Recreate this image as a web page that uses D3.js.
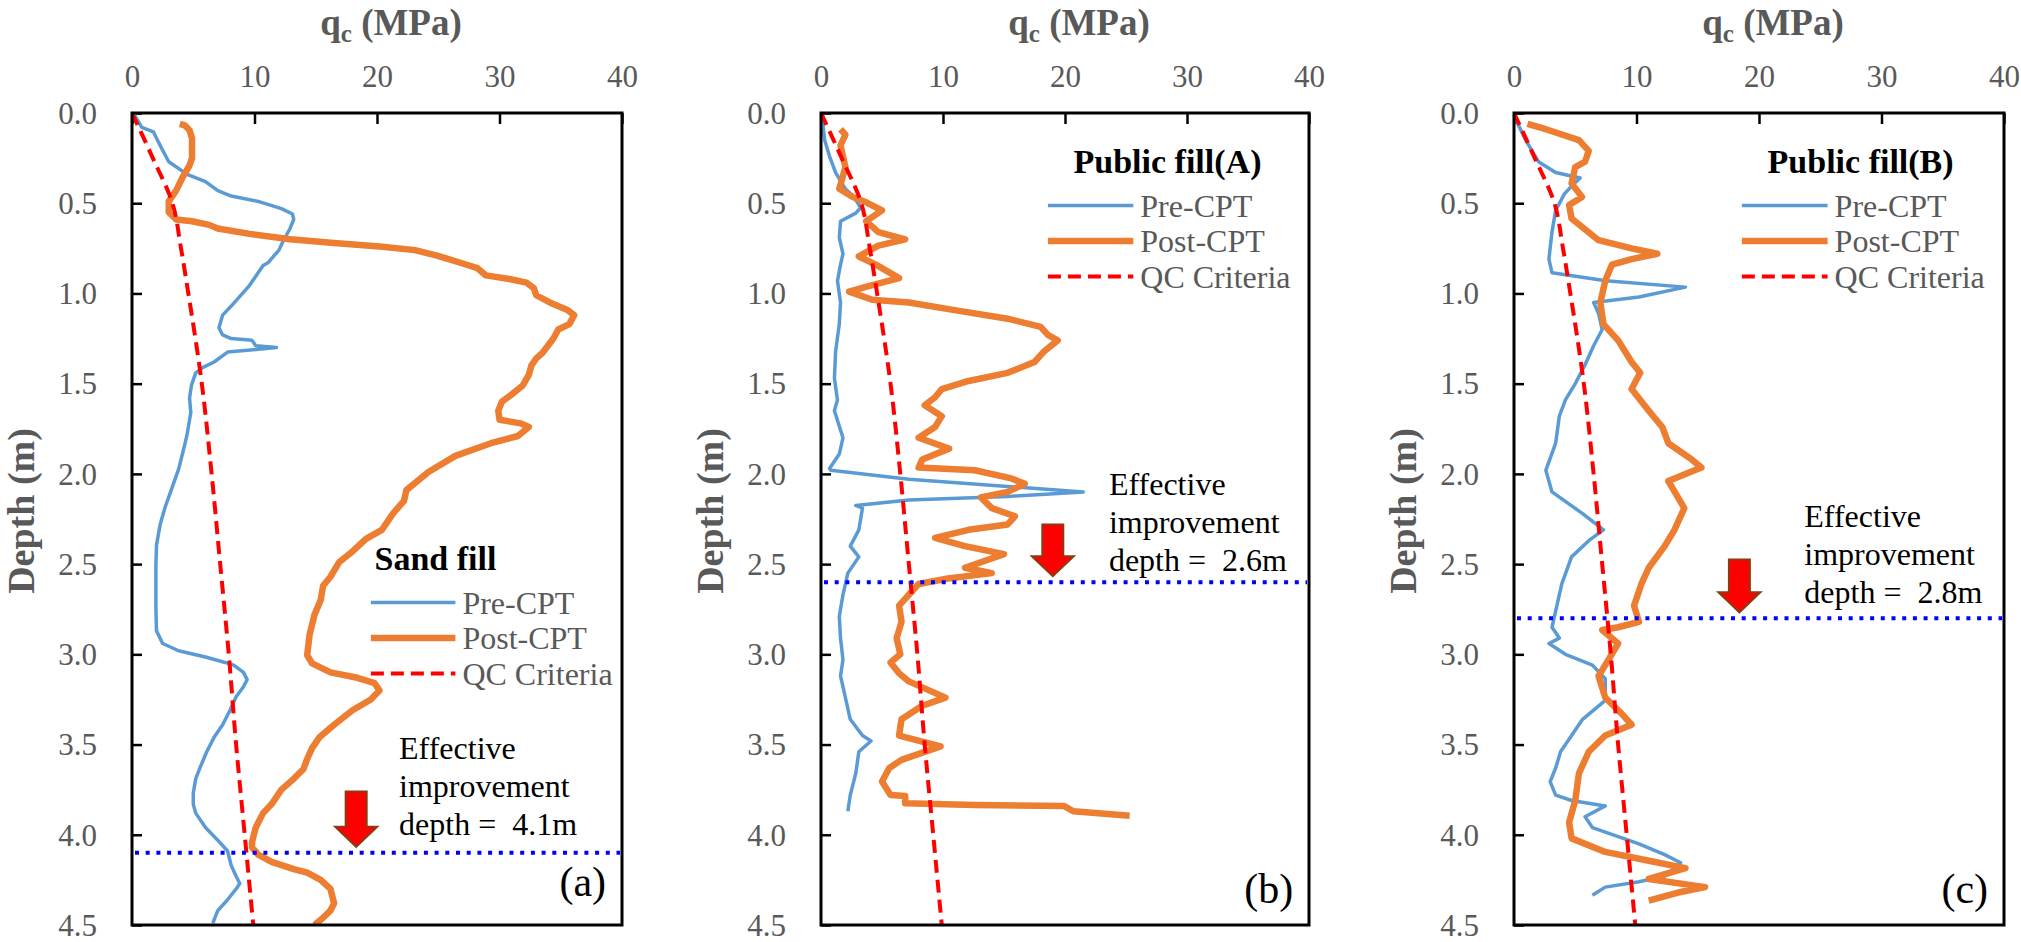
<!DOCTYPE html>
<html>
<head>
<meta charset="utf-8">
<script src="https://cdn.jsdelivr.net/npm/d3@7"></script>
<style>
body { margin: 0; background: #fff; }
svg { display: block; }
text { font-family: "Liberation Serif", "Times New Roman", serif; }
</style>
</head>
<body>
<svg id="chart" width="2021" height="942"></svg>
<script>
// x ticks (MPa) and depth ticks (m)
var qcTicks = [0, 10, 20, 30, 40]
var depthTicks = [0, 0.5, 1.0, 1.5, 2.0, 2.5, 3.0, 3.5, 4.0, 4.5]

// QC criteria, [depth m, qc MPa]
var qcCriteria = [[0, 0], [0.25, 1.7], [0.5, 3.3], [0.75, 4.0], [1, 4.6], [1.5, 5.7], [2, 6.5],
  [2.5, 7.2], [3, 7.9], [3.5, 8.5], [4, 9.2], [4.5, 9.9]]

// (a) sand fill
var preA = [[0, 0.1], [0.08, 0.8], [0.105, 1.75], [0.18, 2.3], [0.27, 3.0], [0.34, 4.5], [0.38, 6.0],
  [0.43, 7.0], [0.46, 8.1], [0.49, 10.3], [0.53, 12.2], [0.56, 13.1], [0.59, 13.2], [0.64, 12.9],
  [0.715, 12.3], [0.76, 12.0], [0.79, 11.6], [0.83, 11.1], [0.845, 10.7], [0.955, 9.6], [1.07, 8.1],
  [1.12, 7.4], [1.19, 7.1], [1.23, 7.4], [1.25, 8.1], [1.26, 9.8], [1.29, 10.1], [1.30, 11.8],
  [1.31, 10.3], [1.325, 7.8], [1.38, 6.7], [1.41, 5.8], [1.44, 5.2], [1.51, 4.85], [1.58, 4.7],
  [1.66, 4.8], [1.78, 4.5], [1.84, 4.3], [1.975, 3.8], [2.09, 3.2], [2.185, 2.7], [2.28, 2.3],
  [2.395, 2.0], [2.51, 1.95], [2.62, 1.95], [2.74, 1.95], [2.87, 2.0], [2.94, 2.5], [2.98, 3.8],
  [3.015, 6.0], [3.045, 7.6], [3.06, 8.3], [3.10, 9.1], [3.14, 9.4], [3.18, 9.1], [3.235, 8.5],
  [3.31, 8.0], [3.39, 7.4], [3.46, 6.7], [3.54, 6.1], [3.62, 5.6], [3.69, 5.2], [3.77, 5.0],
  [3.83, 5.0], [3.88, 5.2], [3.96, 6.0], [4.03, 7.0], [4.09, 7.8], [4.17, 8.1], [4.23, 8.5],
  [4.27, 8.8], [4.30, 8.5], [4.36, 7.8], [4.42, 7.0], [4.49, 6.6]]
var postA = [[0.06, 3.9], [0.068, 4.3], [0.096, 4.7], [0.14, 4.9], [0.25, 4.9], [0.29, 4.7], [0.36, 4.1],
  [0.43, 3.6], [0.49, 3.0], [0.55, 3.0], [0.59, 3.6], [0.60, 4.9], [0.62, 6.3], [0.64, 7.0], [0.67, 9.6],
  [0.70, 12.9], [0.72, 16.5], [0.74, 20.2], [0.76, 23.1], [0.79, 24.9], [0.83, 26.8], [0.86, 28.2],
  [0.90, 28.9], [0.92, 30.8], [0.94, 32.2], [0.97, 32.8], [1.01, 33.0], [1.05, 34.1], [1.09, 35.5],
  [1.12, 36.1], [1.17, 35.7], [1.20, 34.8], [1.25, 34.4], [1.33, 33.5], [1.36, 33.0], [1.40, 32.6],
  [1.45, 32.4], [1.51, 31.9], [1.565, 30.9], [1.60, 30.2], [1.65, 29.9], [1.70, 30.0], [1.72, 31.7],
  [1.74, 32.4], [1.79, 31.5], [1.83, 29.3], [1.90, 26.4], [1.99, 24.2], [2.09, 22.4], [2.15, 22.2],
  [2.22, 21.3], [2.31, 20.4], [2.36, 19.1], [2.43, 18.0], [2.49, 16.9], [2.57, 16.2], [2.62, 15.6],
  [2.70, 15.4], [2.78, 14.9], [2.89, 14.5], [3.005, 14.3], [3.05, 14.7], [3.10, 16.2], [3.13, 18.4],
  [3.16, 19.8], [3.20, 20.2], [3.25, 19.5], [3.31, 18.0], [3.39, 16.5], [3.46, 15.3], [3.52, 14.7],
  [3.58, 14.3], [3.635, 14.0], [3.69, 13.2], [3.75, 12.2], [3.83, 11.4], [3.88, 10.7], [3.96, 10.1],
  [4.04, 9.8], [4.07, 9.8], [4.11, 10.3], [4.15, 11.4], [4.19, 13.2], [4.21, 14.3], [4.25, 15.4],
  [4.30, 16.2], [4.38, 16.5], [4.42, 16.2], [4.46, 15.6], [4.5, 14.9]]

// (b) public fill A
var preB = [[0.03, 0.1], [0.15, 0.3], [0.24, 0.7], [0.33, 1.2], [0.42, 2.0], [0.465, 2.7], [0.525, 3.25],
  [0.555, 2.85], [0.60, 1.6], [0.69, 1.5], [0.78, 1.8], [0.84, 1.6], [0.93, 1.35], [1.05, 1.6],
  [1.17, 1.5], [1.32, 1.2], [1.47, 1.1], [1.59, 1.35], [1.65, 1.1], [1.80, 1.8], [1.89, 1.5],
  [1.97, 0.7], [1.98, 0.8], [2.03, 7.2], [2.07, 15.3], [2.10, 21.5], [2.125, 15.3], [2.145, 7.2],
  [2.175, 2.85], [2.19, 3.4], [2.31, 3.1], [2.40, 2.4], [2.46, 3.1], [2.55, 2.2], [2.67, 1.8],
  [2.79, 1.5], [2.91, 1.6], [3.03, 1.8], [3.12, 1.6], [3.24, 2.0], [3.36, 2.4], [3.45, 3.4],
  [3.48, 4.1], [3.54, 3.1], [3.66, 2.85], [3.78, 2.4], [3.87, 2.2]]
var postB = [[0.09, 1.6], [0.12, 2.0], [0.18, 1.6], [0.30, 2.0], [0.42, 1.5], [0.465, 2.6], [0.495, 3.7],
  [0.54, 5.0], [0.60, 3.7], [0.66, 4.7], [0.70, 6.9], [0.735, 4.7], [0.795, 3.1], [0.84, 4.5],
  [0.915, 6.4], [0.96, 3.9], [0.99, 2.3], [1.035, 4.2], [1.05, 7.2], [1.095, 11.2], [1.14, 15.3],
  [1.185, 18.0], [1.23, 18.6], [1.26, 19.4], [1.32, 18.3], [1.38, 17.5], [1.44, 15.3], [1.485, 12.1],
  [1.53, 9.9], [1.575, 9.35], [1.62, 8.5], [1.68, 9.9], [1.74, 9.35], [1.80, 8.0], [1.86, 10.5],
  [1.92, 8.3], [1.965, 8.0], [1.98, 12.6], [2.025, 15.6], [2.055, 16.7], [2.10, 15.3], [2.13, 13.1],
  [2.19, 14.0], [2.235, 15.9], [2.28, 15.3], [2.31, 12.1], [2.355, 9.35], [2.40, 11.8], [2.445, 15.0],
  [2.49, 13.1], [2.52, 11.8], [2.55, 14.0], [2.58, 10.4], [2.61, 8.0], [2.67, 7.2], [2.73, 6.4],
  [2.82, 6.6], [2.91, 6.2], [3.00, 6.5], [3.045, 5.7], [3.105, 6.4], [3.15, 7.2], [3.24, 10.2],
  [3.285, 8.3], [3.36, 6.6], [3.45, 6.4], [3.51, 9.8], [3.585, 6.6], [3.63, 5.6], [3.705, 5.0],
  [3.78, 5.7], [3.785, 6.9], [3.825, 6.9], [3.835, 12.6], [3.84, 19.9], [3.87, 20.7], [3.895, 25.3]]

// (c) public fill B
var preC = [[0.03, 0.1], [0.15, 0.95], [0.27, 2.0], [0.33, 3.4], [0.36, 5.4], [0.405, 4.7], [0.45, 4.1],
  [0.54, 3.4], [0.66, 3.1], [0.81, 2.85], [0.885, 3.1], [0.93, 7.5], [0.965, 14.0], [1.02, 10.2],
  [1.05, 6.5], [1.11, 6.9], [1.20, 7.2], [1.29, 6.5], [1.395, 5.8], [1.50, 5.0], [1.59, 4.2],
  [1.68, 3.7], [1.83, 3.4], [1.98, 2.6], [2.10, 3.1], [2.22, 5.6], [2.31, 7.3], [2.37, 6.1],
  [2.46, 4.7], [2.61, 3.9], [2.76, 3.4], [2.85, 3.1], [2.91, 3.7], [2.94, 2.85], [3.00, 4.2],
  [3.06, 6.4], [3.135, 7.45], [3.255, 7.45], [3.36, 5.6], [3.45, 4.7], [3.54, 3.8], [3.63, 3.4],
  [3.705, 2.95], [3.78, 3.4], [3.81, 4.7], [3.84, 7.45], [3.90, 5.8], [3.96, 6.4], [4.05, 10.2],
  [4.11, 12.3], [4.155, 13.6], [4.23, 12.3], [4.26, 10.2], [4.29, 7.45], [4.335, 6.4]]
var postC = [[0.06, 1.1], [0.09, 2.6], [0.15, 5.3], [0.21, 6.1], [0.27, 5.8], [0.30, 5.0], [0.39, 4.7],
  [0.465, 5.55], [0.51, 4.5], [0.585, 4.7], [0.705, 6.9], [0.75, 9.6], [0.78, 11.7], [0.81, 9.6],
  [0.84, 8.0], [0.93, 7.45], [1.05, 7.05], [1.17, 7.3], [1.26, 8.5], [1.38, 9.6], [1.44, 10.3],
  [1.53, 9.6], [1.65, 11.0], [1.74, 12.1], [1.83, 12.6], [1.92, 14.5], [1.965, 15.3], [2.04, 12.6],
  [2.19, 13.9], [2.31, 13.1], [2.40, 12.3], [2.52, 11.0], [2.61, 10.4], [2.73, 9.8], [2.82, 10.2],
  [2.85, 8.5], [2.865, 7.2], [2.94, 8.5], [3.06, 7.45], [3.12, 6.9], [3.24, 7.45], [3.33, 8.8],
  [3.39, 9.6], [3.45, 7.45], [3.54, 6.1], [3.66, 5.3], [3.81, 5.0], [3.93, 4.5], [4.02, 4.7],
  [4.095, 7.45], [4.14, 10.7], [4.185, 14.0], [4.245, 11.0], [4.29, 15.6], [4.32, 13.4], [4.365, 11.0]]

var fillNames = ["Sand fill", "Public fill(A)", "Public fill(B)"]
var panelLetters = ["(a)", "(b)", "(c)"]
var improveDepths = [4.1, 2.6, 2.8]
var seriesNames = ["Pre-CPT", "Post-CPT", "QC Criteria"]

// layout of each panel (pixels) and where its notes sit (data units)
var panels = [
  {left: 132, width: 490, pre: preA, post: postA, legQ: 19.8, legD: 2.53, lineQ0: 19.5, lineQ1: 26.4,
    noteQ: 21.8, noteD: 3.58, arrowQ: 18.3, arrowD: 3.76, labelD: 4.34},
  {left: 821, width: 488, pre: preB, post: postB, legQ: 20.7, legD: 0.33, lineQ0: 18.6, lineQ1: 25.6,
    noteQ: 23.6, noteD: 2.115, arrowQ: 19.0, arrowD: 2.28, labelD: 4.38},
  {left: 1514, width: 490, pre: preC, post: postC, legQ: 20.7, legD: 0.33, lineQ0: 18.6, lineQ1: 25.6,
    noteQ: 23.7, noteD: 2.295, arrowQ: 18.4, arrowD: 2.475, labelD: 4.38}
]
var plotTop = 113, plotBottom = 925
var gray = "#595959"
var styles = [
  {stroke: "#5b9bd5", width: 3.5, dash: null},
  {stroke: "#ed7d31", width: 6.5, dash: null},
  {stroke: "#ff0000", width: 4, dash: "13 7"}
]

var svg = d3.select("#chart")

panels.forEach(function(p, i) {
  var x = d3.scaleLinear().domain([0, 40]).range([p.left, p.left + p.width])
  var y = d3.scaleLinear().domain([0, 4.5]).range([plotTop, plotBottom])
  var g = svg.append("g")

  g.append("clipPath").attr("id", "clip" + i)
    .append("rect").attr("x", p.left).attr("y", plotTop).attr("width", p.width).attr("height", plotBottom - plotTop)

  // axes with inward ticks
  var xAxis = g.append("g").attr("transform", "translate(0," + plotTop + ")")
    .call(d3.axisTop(x).tickValues(qcTicks).tickSize(-11).tickPadding(26))
  var yAxis = g.append("g").attr("transform", "translate(" + p.left + ",0)")
    .call(d3.axisLeft(y).tickValues(depthTicks).tickFormat(d3.format(".1f")).tickSize(-10).tickPadding(35))
  ;[xAxis, yAxis].forEach(function(a) {
    a.select(".domain").remove()
    a.selectAll(".tick line").attr("stroke", "#000").attr("stroke-width", 2.5)
    a.selectAll(".tick text").attr("fill", gray).style("font-size", "31px")
      .style("font-family", "'Liberation Serif', serif")
  })
  xAxis.selectAll(".tick text").attr("dy", "0em")
  yAxis.selectAll(".tick text").attr("dy", "0.33em")

  // axis titles
  var t = g.append("text").attr("x", p.left + p.width / 2 + 14).attr("y", 35)
    .attr("text-anchor", "middle").attr("fill", gray)
    .style("font-size", "37px").style("font-weight", "bold")
  t.append("tspan").text("q")
  t.append("tspan").text("c").style("font-size", "25px").attr("dy", 7)
  t.append("tspan").text(" (MPa)").attr("dy", -7)

  g.append("text").attr("transform", "translate(" + (p.left - 98) + ",511) rotate(-90)")
    .attr("text-anchor", "middle").attr("fill", gray)
    .style("font-size", "38px").style("font-weight", "bold").text("Depth (m)")

  // curves
  var line = d3.line().x(function(d) { return x(d[1]) }).y(function(d) { return y(d[0]) })
  var curves = g.append("g").attr("clip-path", "url(#clip" + i + ")")
  ;[p.pre, p.post, qcCriteria].forEach(function(data, k) {
    curves.append("path").datum(data)
      .attr("d", k == 2 ? line.curve(d3.curveMonotoneY)(data) : line.curve(d3.curveLinear)(data))
      .attr("fill", "none").attr("stroke", styles[k].stroke).attr("stroke-width", styles[k].width)
      .attr("stroke-dasharray", styles[k].dash).attr("stroke-linejoin", "round")
  })

  // effective improvement depth line
  g.append("line").attr("x1", x(0) + 3).attr("x2", x(40) - 2)
    .attr("y1", y(improveDepths[i])).attr("y2", y(improveDepths[i]))
    .attr("stroke", "#0000ff").attr("stroke-width", 4).attr("stroke-dasharray", "4 6.7")

  // arrow
  var ax = x(p.arrowQ), ay0 = y(p.arrowD), ay1 = y(improveDepths[i]) - 6
  g.append("path")
    .attr("d", "M" + (ax - 10.5) + "," + ay0 + "L" + (ax + 10.5) + "," + ay0 + "L" + (ax + 10.5) + "," + (ay1 - 20) +
      "L" + (ax + 21) + "," + (ay1 - 20) + "L" + ax + "," + ay1 + "L" + (ax - 21) + "," + (ay1 - 20) +
      "L" + (ax - 10.5) + "," + (ay1 - 20) + "Z")
    .attr("fill", "#ff0000").attr("stroke", "#8b3a12").attr("stroke-width", 2)

  // note
  var note = g.append("text").attr("x", x(p.noteQ)).attr("y", y(p.noteD))
    .style("font-size", "32px").style("white-space", "pre").attr("fill", "#000")
  ;["Effective", "improvement", "depth =  " + improveDepths[i] + "m"].forEach(function(s, k) {
    note.append("tspan").attr("x", x(p.noteQ)).attr("dy", k ? 38 : 0).text(s)
  })

  // legend
  var lx = x(p.legQ), ly = y(p.legD)
  g.append("text").attr("x", lx).attr("y", ly).style("font-size", "34px").style("font-weight", "bold")
    .attr("fill", "#000").text(fillNames[i])
  seriesNames.forEach(function(s, k) {
    var yy = ly + 33 + k * 35.5
    g.append("line").attr("x1", x(p.lineQ0)).attr("x2", x(p.lineQ1)).attr("y1", yy).attr("y2", yy)
      .attr("stroke", styles[k].stroke).attr("stroke-width", styles[k].width)
      .attr("stroke-dasharray", styles[k].dash)
    g.append("text").attr("x", x(p.lineQ1) + 7).attr("y", yy + 11).style("font-size", "32px")
      .attr("fill", gray).text(s)
  })

  // panel letter
  g.append("text").attr("x", x(38.7)).attr("y", y(p.labelD)).attr("text-anchor", "end")
    .style("font-size", "42px").attr("fill", "#000").text(panelLetters[i])

  // frame
  g.append("rect").attr("x", p.left).attr("y", plotTop).attr("width", p.width).attr("height", plotBottom - plotTop)
    .attr("fill", "none").attr("stroke", "#000").attr("stroke-width", 3)
})
</script>
</body>
</html>
